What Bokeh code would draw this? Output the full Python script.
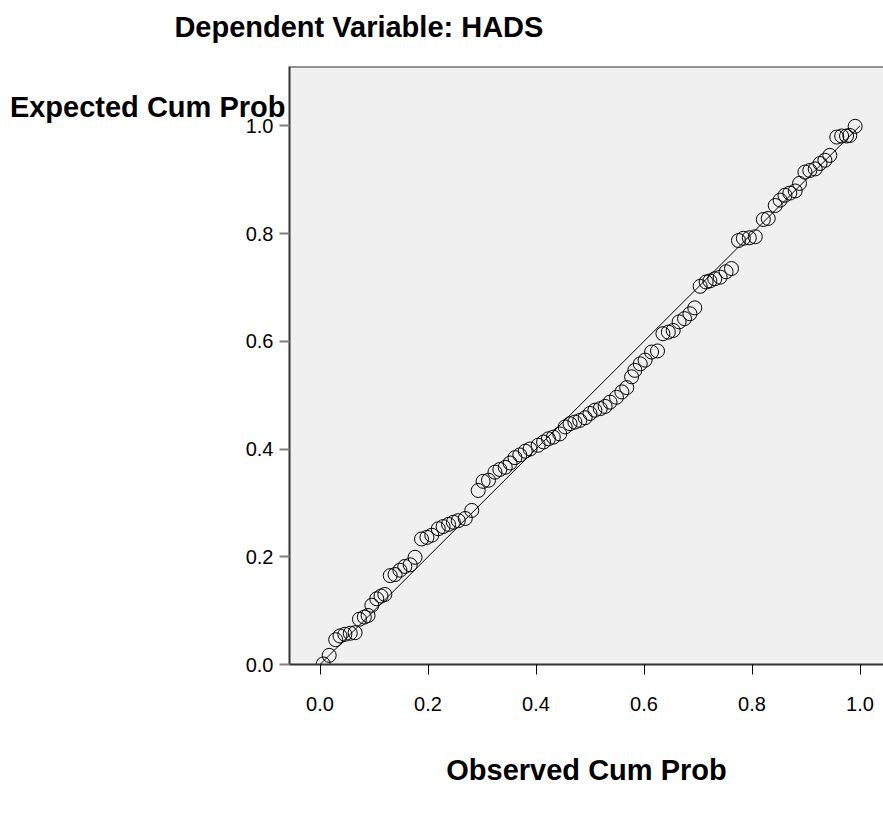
from bokeh.plotting import figure
from bokeh.models import Range1d, Label, Span, FixedTicker, PrintfTickFormatter
from bokeh.embed import file_html
from bokeh.resources import INLINE

# Normal P-P plot of the regression standardized residual
observed_cum_prob = [
    0.006, 0.017, 0.029, 0.037, 0.046, 0.056, 0.065, 0.073, 0.082, 0.089,
    0.096, 0.105, 0.113, 0.120, 0.130, 0.139, 0.148, 0.157, 0.167, 0.176,
    0.188, 0.198, 0.207, 0.219, 0.228, 0.238, 0.247, 0.256, 0.269, 0.281,
    0.293, 0.302, 0.312, 0.324, 0.333, 0.343, 0.352, 0.361, 0.370, 0.380,
    0.389, 0.404, 0.414, 0.423, 0.432, 0.444, 0.454, 0.463, 0.472, 0.481,
    0.491, 0.500, 0.509, 0.519, 0.528, 0.537, 0.549, 0.559, 0.568, 0.577,
    0.583, 0.593, 0.602, 0.614, 0.625, 0.635, 0.645, 0.654, 0.665, 0.675,
    0.685, 0.694, 0.704, 0.715, 0.722, 0.731, 0.741, 0.752, 0.762, 0.775,
    0.784, 0.795, 0.806, 0.821, 0.830, 0.843, 0.852, 0.861, 0.870, 0.880,
    0.888, 0.898, 0.907, 0.917, 0.926, 0.935, 0.944, 0.957, 0.966, 0.975,
    0.981, 0.991,
]
expected_cum_prob = [
    0.001, 0.017, 0.046, 0.053, 0.056, 0.058, 0.059, 0.084, 0.088, 0.091,
    0.110, 0.122, 0.127, 0.130, 0.165, 0.167, 0.175, 0.182, 0.185, 0.199,
    0.233, 0.236, 0.240, 0.252, 0.256, 0.260, 0.264, 0.267, 0.271, 0.286,
    0.323, 0.340, 0.342, 0.357, 0.362, 0.366, 0.374, 0.384, 0.389, 0.396,
    0.400, 0.407, 0.413, 0.419, 0.422, 0.428, 0.441, 0.447, 0.450, 0.453,
    0.458, 0.466, 0.472, 0.475, 0.479, 0.487, 0.496, 0.506, 0.514, 0.534,
    0.546, 0.558, 0.565, 0.580, 0.582, 0.614, 0.617, 0.620, 0.636, 0.642,
    0.651, 0.662, 0.702, 0.710, 0.712, 0.716, 0.719, 0.729, 0.735, 0.787,
    0.791, 0.792, 0.794, 0.826, 0.828, 0.852, 0.862, 0.871, 0.875, 0.879,
    0.893, 0.914, 0.917, 0.920, 0.930, 0.936, 0.945, 0.979, 0.981, 0.981,
    0.982, 0.999,
]
reference_line = [0.0, 1.0]
tick_values = [0.0, 0.2, 0.4, 0.6, 0.8, 1.0]

FONT = "Liberation Sans"
FRAME_COLOR = "#333333"

p = figure(
    frame_width=594, frame_height=598,
    min_border_left=289, min_border_right=0,
    min_border_top=66, min_border_bottom=152,
    x_range=Range1d(-0.0565, 1.0435), y_range=Range1d(0.0, 1.11),
    output_backend="svg", toolbar_location=None,
)
p.background_fill_color = "#f0f0f0"
p.border_fill_color = "white"
p.outline_line_color = None
p.grid.visible = False

for ax in (p.xaxis, p.yaxis):
    ax.ticker = FixedTicker(ticks=tick_values)
    ax.formatter = PrintfTickFormatter(format="%.1f")
    ax.minor_tick_line_color = None
    ax.major_tick_in = 0
    ax.major_tick_out = 10
    ax.axis_line_color = FRAME_COLOR
    ax.axis_line_width = 2
    ax.major_label_text_font = FONT
    ax.major_label_text_font_size = "20px"
    ax.major_label_text_color = "black"

p.xaxis.major_tick_line_color = "black"
p.xaxis.major_tick_line_width = 1
p.xaxis.major_label_standoff = 22
p.yaxis.major_tick_line_color = "#808080"
p.yaxis.major_tick_line_width = 2
p.yaxis.major_label_standoff = 6

p.xaxis.axis_label = "Observed Cum Prob"
p.xaxis.axis_label_text_font = FONT
p.xaxis.axis_label_text_font_style = "bold"
p.xaxis.axis_label_text_font_size = "29px"
p.xaxis.axis_label_text_color = "black"
p.xaxis.axis_label_standoff = 40

# top edge of the plot frame
p.add_layout(Span(location=1.11, dimension="width",
                  line_color=FRAME_COLOR, line_width=2))

# diagonal reference line
p.line(reference_line, reference_line, line_color="black", line_width=1)

# observed vs expected cumulative probabilities
p.scatter(observed_cum_prob, expected_cum_prob, marker="circle", size=14,
          fill_color=None, line_color="black", line_width=1)

# chart heading and the horizontal y-axis caption; both sit in the top
# margin panel so they are drawn outside the plot frame without clipping
p.add_layout(Label(
    x=0.072, y=1.183, text="Dependent Variable: HADS",
    text_align="center", text_baseline="middle",
    text_font=FONT, text_font_style="bold", text_font_size="29px",
    text_color="black",
), "above")
p.add_layout(Label(
    x=-0.064, y=1.035, text="Expected Cum Prob",
    text_align="right", text_baseline="middle",
    text_font=FONT, text_font_style="bold", text_font_size="29px",
    text_color="black",
), "above")

open("out.html", "w").write(file_html(p, INLINE))
